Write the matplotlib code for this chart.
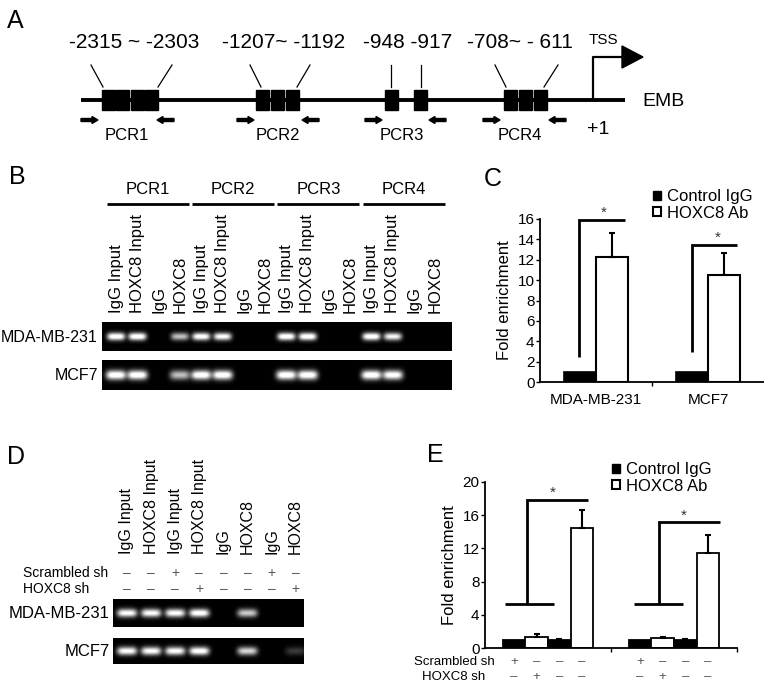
import matplotlib
matplotlib.use("Agg")
import matplotlib.pyplot as plt
import numpy as np
from matplotlib.patches import Rectangle, Patch, Polygon
import matplotlib.transforms as mtrans

plt.rcParams['font.family'] = ['Liberation Sans', 'DejaVu Sans']

# ---------------- data ----------------
# Panel A (schematic of EMB promoter)
site_labels = ["-2315 ~ -2303", "-1207~ -1192", "-948 -917", "-708~ - 611"]
site_label_x = [134, 284, 408, 520]
site_boxes = [[108, 122.5, 137, 151.5], [262, 277, 292], [391, 420], [510, 525, 540]]
site_leaders = [[(91, 103), (172, 158)], [(250, 261), (310, 297)],
                [(391, 391), (421, 421)], [(495, 506), (558, 544)]]
pcr_names = ["PCR1", "PCR2", "PCR3", "PCR4"]
pcr_label_x = [127, 278, 402, 520]
primer_fwd = [81, 237, 365, 483]
primer_rev = [174, 319, 446, 566]

# Panel B (ChIP gel)
lane_labels_B = ["IgG Input", "HOXC8 Input", "IgG", "HOXC8"] * 4
cell_lines = ["MDA-MB-231", "MCF7"]
bands_B_mda = [1.0, 1.0, 0.0, 0.6, 0.95, 0.9, 0.0, 0.0, 1.0, 1.0, 0.0, 0.0, 1.0, 0.85, 0.0, 0.0]
bands_B_mcf = [1.0, 1.0, 0.0, 0.6, 1.0, 1.0, 0.0, 0.0, 1.0, 1.0, 0.0, 0.0, 1.0, 0.95, 0.0, 0.0]

# Panel C (ChIP qPCR)
groups_C = ["MDA-MB-231", "MCF7"]
ctrl_C = [1.0, 1.0]
hox_C = [12.3, 10.5]
hox_err_C = [2.3, 2.15]

# Panel D (ChIP gel after knockdown)
lane_labels_D = ["IgG Input", "HOXC8 Input", "IgG Input", "HOXC8 Input", "IgG", "HOXC8", "IgG", "HOXC8"]
scr_D = ["\u2013", "\u2013", "+", "\u2013", "\u2013", "\u2013", "+", "\u2013"]
shh_D = ["\u2013", "\u2013", "\u2013", "+", "\u2013", "\u2013", "\u2013", "+"]
bands_D_mda = [0.9, 0.9, 0.9, 0.95, 0.0, 0.65, 0.0, 0.0]
bands_D_mcf = [0.9, 0.9, 0.9, 0.95, 0.0, 0.7, 0.0, 0.12]

# Panel E (ChIP qPCR after knockdown)
vals_E = [[1.0, 1.3, 1.0, 14.5], [1.0, 1.2, 1.0, 11.5]]
errs_E = [[0.0, 0.4, 0.1, 2.1], [0.0, 0.15, 0.1, 2.1]]
bar_colors_E = ["black", "white", "black", "white"]
scr_E = ["+", "\u2013", "\u2013", "\u2013"]
shh_E = ["\u2013", "+", "\u2013", "\u2013"]

# ---------------- figure ----------------
W, H = 764, 684
fig = plt.figure(figsize=(7.64, 6.84), dpi=100)
ov = fig.add_axes([0, 0, 1, 1])
ov.set_xlim(0, W)
ov.set_ylim(H, 0)
ov.axis('off')

letter_fs = 18
for L, x, y in [("A", 7, 21), ("B", 9, 177), ("C", 484, 179), ("D", 7, 457), ("E", 427, 455)]:
    ov.text(x, y, L, fontsize=letter_fs, ha='left', va='center')

# ---- Panel A ----
LINE_Y = 100
ov.plot([81, 625], [LINE_Y, LINE_Y], color='k', lw=2.8, solid_capstyle='butt')
for grp in site_boxes:
    for cx in grp:
        ov.add_patch(Rectangle((cx - 6.5, LINE_Y - 10), 13, 20, color='k'))
for (l, r) in site_leaders:
    for (xa, xb) in (l, r):
        ov.plot([xa, xb], [65, 87], color='k', lw=0.9)
for t, x in zip(site_labels, site_label_x):
    ov.text(x, 42, t, fontsize=15, ha='center', va='center')
for xf, xr in zip(primer_fwd, primer_rev):
    ov.arrow(xf, 120, 17, 0, width=3, head_width=7, head_length=6,
             length_includes_head=True, color='k')
    ov.arrow(xr, 120, -17, 0, width=3, head_width=7, head_length=6,
             length_includes_head=True, color='k')
for t, x in zip(pcr_names, pcr_label_x):
    ov.text(x, 135, t, fontsize=12, ha='center', va='center')
ov.plot([593, 593, 624], [LINE_Y, 57, 57], color='k', lw=1.6, solid_capstyle='butt')
ov.add_patch(Polygon([[622, 46], [643, 57], [622, 68]], closed=True, color='k'))
ov.text(603, 40, "TSS", fontsize=11, ha='center', va='center')
ov.text(642, 101, "EMB", fontsize=14, ha='left', va='center')
ov.text(598, 129, "+1", fontsize=14, ha='center', va='center')


# ---- gel helper ----
def draw_gel(x0, x1, y0, y1, centers, intens, bw, bh):
    nx = int((x1 - x0) * 3)
    ny = int((y1 - y0) * 3)
    xs = np.linspace(x0, x1, nx)
    ys = np.linspace(y0, y1, ny)
    X, Y = np.meshgrid(xs, ys)
    yc = (y0 + y1) / 2
    img = np.zeros_like(X)
    for c, I in zip(centers, intens):
        if I <= 0:
            continue
        img += I * np.exp(-(np.abs(X - c) / bw) ** 4 - (np.abs(Y - yc) / bh) ** 2)
    img = np.clip(img * 1.15, 0, 1) ** 0.75
    ov.imshow(img, extent=(x0, x1, y1, y0), cmap='gray', vmin=0, vmax=1,
              interpolation='bilinear', aspect='auto', origin='upper')


# ---- Panel B ----
lanesB = [116 + 21.3 * k for k in range(16)]
for g in range(4):
    xa = lanesB[4 * g] - 9
    xb = lanesB[4 * g + 3] + 9
    ov.plot([xa, xb], [204, 204], color='k', lw=2, solid_capstyle='butt')
    ov.text((xa + xb) / 2, 189, pcr_names[g], fontsize=12, ha='center', va='center')
for x, t in zip(lanesB, lane_labels_B):
    ov.text(x, 313, t, fontsize=12, rotation=90, ha='center', va='bottom')
draw_gel(102, 452, 322, 351, lanesB, bands_B_mda, 8.5, 3.4)
draw_gel(102, 452, 360, 390, lanesB, bands_B_mcf, 9.5, 4.2)
ov.text(98, 337, cell_lines[0], fontsize=11.5, ha='right', va='center')
ov.text(98, 375, cell_lines[1], fontsize=11.5, ha='right', va='center')

# ---- Panel D ----
lanesD = [127 + 24.1 * k for k in range(8)]
for x, t in zip(lanesD, lane_labels_D):
    ov.text(x, 554, t, fontsize=11.5, rotation=90, ha='center', va='bottom')
ov.text(23, 573, "Scrambled sh", fontsize=10, ha='left', va='center')
ov.text(23, 589, "HOXC8 sh", fontsize=10, ha='left', va='center')
for x, s1, s2 in zip(lanesD, scr_D, shh_D):
    ov.text(x, 573, s1, fontsize=10, ha='center', va='center', color='#555555')
    ov.text(x, 589, s2, fontsize=10, ha='center', va='center', color='#555555')
draw_gel(113, 304, 599, 627, lanesD, bands_D_mda, 9.5, 3.7)
draw_gel(113, 304, 638, 664, lanesD, bands_D_mcf, 9.5, 3.7)
ov.text(110, 613, cell_lines[0], fontsize=12, ha='right', va='center')
ov.text(110, 651, cell_lines[1], fontsize=12, ha='right', va='center')
ov.set_xlim(0, W)
ov.set_ylim(H, 0)


def fig_rect(l, r, t, b):
    return [l / W, 1 - b / H, (r - l) / W, (b - t) / H]


def style_axes(ax):
    for s in ['top', 'right']:
        ax.spines[s].set_visible(False)
    for s in ['left', 'bottom']:
        ax.spines[s].set_linewidth(1.3)
    ax.set_facecolor('none')


def bracket(ax, xv, ybot, ytop, xr, lw=2.0):
    ax.plot([xv, xv, xr], [ybot, ytop, ytop], color='k', lw=lw,
            solid_capstyle='butt', solid_joinstyle='miter', clip_on=False)


# ---- Panel C ----
axc = fig.add_axes(fig_rect(540, 764, 219, 382))
style_axes(axc)
xC = np.arange(len(groups_C))
bwC = 0.29
axc.bar(xC - bwC / 2, ctrl_C, bwC, color='black', edgecolor='black', linewidth=1.2)
axc.bar(xC + bwC / 2, hox_C, bwC, color='white', edgecolor='black', linewidth=1.5,
        yerr=[np.zeros(len(hox_C)), hox_err_C],
        error_kw=dict(ecolor='k', elinewidth=1.5, capsize=2, capthick=1.5))
axc.set_xlim(-0.5, 1.5)
axc.set_ylim(0, 16)
axc.set_yticks(np.arange(0, 17, 2))
axc.tick_params(axis='y', labelsize=11, length=3, width=1, pad=1)
axc.set_xticks(xC, groups_C)
axc.set_xticks([0.5], minor=True)
axc.tick_params(axis='x', which='major', length=0, labelsize=11, pad=8)
axc.tick_params(axis='x', which='minor', length=3, width=1)
axc.set_ylabel("Fold enrichment", fontsize=12, labelpad=4)
bracket(axc, -0.15, 2.45, 15.9, 0.26)
bracket(axc, 0.857, 2.9, 13.4, 1.26)
axc.text(0.07, 16.6, "*", fontsize=11, ha='center', va='center', color='#333333', clip_on=False)
axc.text(1.09, 14.2, "*", fontsize=11, ha='center', va='center', color='#333333', clip_on=False)
handles = [Patch(facecolor='black', edgecolor='black'),
           Patch(facecolor='white', edgecolor='black', linewidth=1.5)]
axc.legend(handles, ["Control IgG", "HOXC8 Ab"], loc='upper left',
           bbox_to_anchor=(653 / W, 1 - 189 / H), bbox_transform=fig.transFigure,
           frameon=False, fontsize=12, handlelength=0.45, handleheight=0.45,
           handletextpad=0.4, labelspacing=0.1, borderpad=0, borderaxespad=0)

# ---- Panel E ----
axe = fig.add_axes(fig_rect(485, 737, 482, 648))
style_axes(axe)
offs = np.array([-0.27, -0.09, 0.09, 0.27])
bwE = 0.18
for g in range(2):
    for j in range(4):
        e = errs_E[g][j]
        axe.bar(g + offs[j], vals_E[g][j], bwE, color=bar_colors_E[j], edgecolor='black',
                linewidth=1.3,
                yerr=[[0], [e]] if e > 0 else None,
                error_kw=dict(ecolor='k', elinewidth=1.5, capsize=2, capthick=1.5))
axe.set_xlim(-0.5, 1.5)
axe.set_ylim(0, 20)
axe.set_yticks(np.arange(0, 21, 4))
axe.tick_params(axis='y', labelsize=11, length=3, width=1, pad=1)
axe.set_xticks([0.5, 1.5])
axe.set_xticklabels([])
axe.tick_params(axis='x', length=3, width=1)
axe.set_ylabel("Fold enrichment", fontsize=12, labelpad=4)
bracket(axe, -0.167, 5.3, 17.8, 0.32)
axe.plot([-0.34, 0.05], [5.3, 5.3], color='k', lw=2.0, solid_capstyle='butt')
bracket(axe, 0.88, 5.3, 15.2, 1.365)
axe.plot([0.68, 1.07], [5.3, 5.3], color='k', lw=2.0, solid_capstyle='butt')
axe.text(0.04, 18.7, "*", fontsize=11, ha='center', va='center', color='#333333', clip_on=False)
axe.text(1.08, 15.9, "*", fontsize=11, ha='center', va='center', color='#333333', clip_on=False)
axe.legend(handles, ["Control IgG", "HOXC8 Ab"], loc='upper left',
           bbox_to_anchor=(612 / W, 1 - 462 / H), bbox_transform=fig.transFigure,
           frameon=False, fontsize=12, handlelength=0.45, handleheight=0.45,
           handletextpad=0.4, labelspacing=0.1, borderpad=0, borderaxespad=0)
tr = mtrans.blended_transform_factory(axe.transData, axe.transAxes)
for g in range(2):
    for j in range(4):
        axe.text(g + offs[j], -0.085, scr_E[j], transform=tr, fontsize=9.5,
                 ha='center', va='center', color='#555555', clip_on=False)
        axe.text(g + offs[j], -0.175, shh_E[j], transform=tr, fontsize=9.5,
                 ha='center', va='center', color='#555555', clip_on=False)
ov.text(454, 662, "Scrambled sh", fontsize=9.5, ha='center', va='center')
ov.text(454, 677, "HOXC8 sh", fontsize=9.5, ha='center', va='center')

fig.savefig("out.png", dpi=100)
